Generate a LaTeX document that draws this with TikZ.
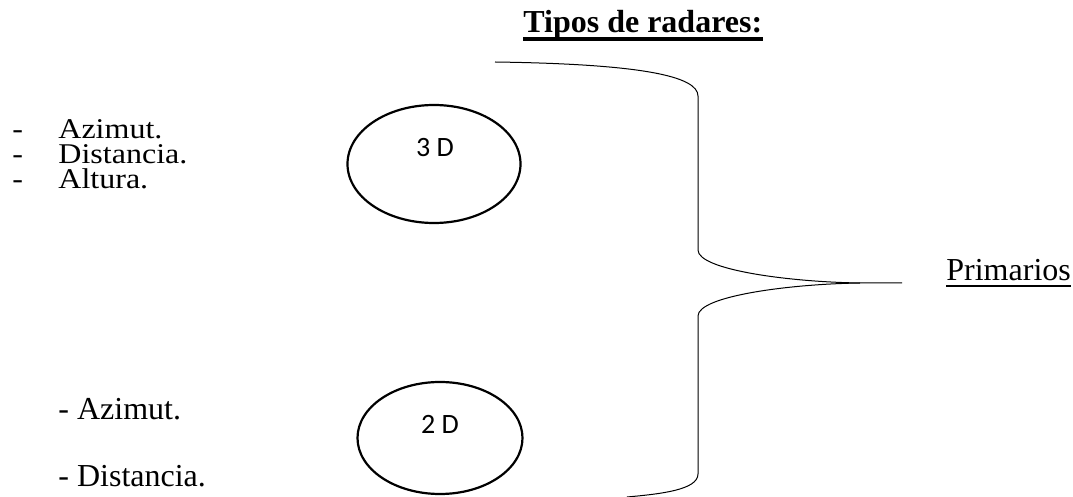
\documentclass[tikz,border=0pt]{standalone}
\usepackage{fontspec}
\setmainfont{Liberation Serif}
\newfontfamily\listfont{Liberation Serif}[FakeStretch=1.12]
\newfontfamily\calibri{Carlito}
\usetikzlibrary{shapes.geometric}

\begin{document}
\begin{tikzpicture}[x=0.5pt,y=-0.5pt,
  txt/.style={inner sep=0pt,anchor=base west,font=\fontsize{16}{19}\selectfont},
  list/.style={inner sep=0pt,anchor=base west,align=left},
  ring/.style={draw,ellipse,line width=1.1pt,inner sep=0pt},
  tag/.style={inner sep=0pt,anchor=base,font=\calibri\fontsize{14}{16}\selectfont},
  brace/.style={line width=0.5pt},
  uline/.style={line width=1.1pt}]
\useasboundingbox (0,0) rectangle (1073,497);

% heading
\node[txt,font=\bfseries\fontsize{16}{19}\selectfont] (title) at (523,33) {Tipos de radares:};
\draw[line width=1.6pt] ([yshift=-3pt]title.base west) -- ([yshift=-3pt]title.base east);

% 3D radar and what it measures (node placed by the baseline of its last line)
\node[ring,minimum width=86.5pt,minimum height=59pt] (r3) at (434,164) {};
\node[tag] (l3) at (435,157) {3 D};
\node[list,font=\listfont\fontsize{14.3}{12.5}\selectfont] (m3) at (12,189)
  {\makebox[23pt][l]{-}Azimut.\\
   \makebox[23pt][l]{-}Distancia.\\
   \makebox[23pt][l]{-}Altura.};

% 2D radar and what it measures
\node[ring,minimum width=82.5pt,minimum height=56pt] (r2) at (440,438) {};
\node[tag] (l2) at (440,434) {2 D};
\node[list,font=\fontsize{16}{33.5}\selectfont] (m2) at (58,487)
  {- Azimut.\\
   - Distancia.};

% curly brace
\coordinate (btop) at (495,62);
\coordinate (bbot) at (627,497);
\coordinate (tipL) at (860,283);
\coordinate (tip) at (902,283);
\draw[brace] (btop) .. controls (640,64) and (698,76) .. (698,96)
  -- (698,250) .. controls (698,270) and (790,282) .. (tipL) -- (tip);
\draw[brace] (tipL) .. controls (790,284) and (698,296) .. (698,316)
  -- (698,474) .. controls (698,490) and (660,494) .. (bbot);

% class label
\node[txt] (prim) at (946,281) {Primarios};
\draw[uline] ([yshift=-2.5pt]prim.base west) -- ([yshift=-2.5pt]prim.base east);
\end{tikzpicture}
\end{document}
